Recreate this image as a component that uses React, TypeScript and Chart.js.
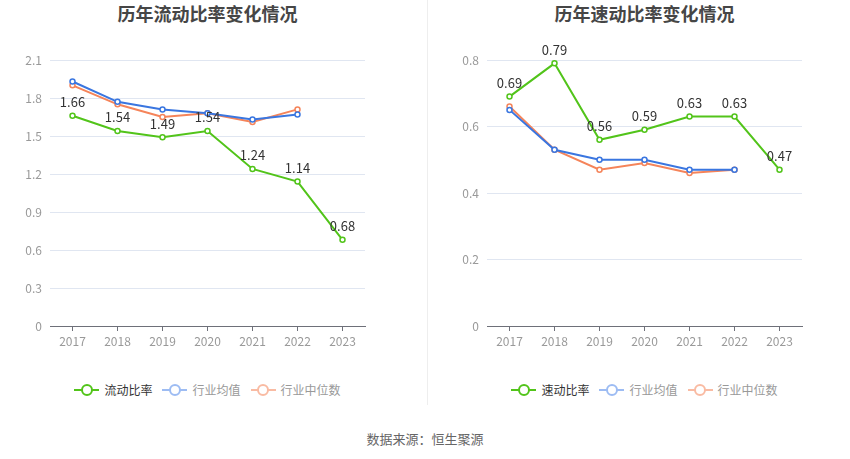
import React, { useEffect, useRef } from 'react';
import { Chart, registerables, Plugin } from 'chart.js';

Chart.register(...registerables);

const years = ['2017', '2018', '2019', '2020', '2021', '2022', '2023'];

const currentRatio = [1.66, 1.54, 1.49, 1.54, 1.24, 1.14, 0.68];
const currentIndustryAvg = [1.93, 1.77, 1.71, 1.68, 1.63, 1.67, null];
const currentIndustryMedian = [1.9, 1.75, 1.65, 1.68, 1.61, 1.71, null];

const quickRatio = [0.69, 0.79, 0.56, 0.59, 0.63, 0.63, 0.47];
const quickIndustryAvg = [0.65, 0.53, 0.5, 0.5, 0.47, 0.47, null];
const quickIndustryMedian = [0.66, 0.53, 0.47, 0.49, 0.46, 0.47, null];

const GREEN = '#52c41a';
const BLUE = '#3a76e0';
const ORANGE = '#f5845a';
const FONT = '"Noto Sans CJK SC", "Noto Sans", sans-serif';

// draws the value above each point of the first dataset
const valueLabels: Plugin<'line'> = {
  id: 'valueLabels',
  afterDatasetsDraw(chart) {
    const ctx = chart.ctx;
    const meta = chart.getDatasetMeta(0);
    const data = chart.data.datasets[0].data as number[];
    ctx.save();
    ctx.font = `13px ${FONT}`;
    ctx.fillStyle = '#333';
    ctx.textAlign = 'center';
    ctx.textBaseline = 'bottom';
    meta.data.forEach((pt, i) => {
      ctx.fillText(data[i].toFixed(2), pt.x, pt.y - 7);
    });
    ctx.restore();
  },
};

interface RatioChartProps {
  left: number;
  axisWidth: number;
  rightPad: number;
  title: string;
  names: string[];
  main: number[];
  avg: (number | null)[];
  median: (number | null)[];
  max: number;
  step: number;
}

const RatioChart: React.FC<RatioChartProps> = ({ left, axisWidth, rightPad, title, names, main, avg, median, max, step }) => {
  const canvasRef = useRef<HTMLCanvasElement>(null);

  useEffect(() => {
    if (!canvasRef.current) return;
    const line = (label: string, data: (number | null)[], color: string) => ({
      label,
      data,
      borderColor: color,
      backgroundColor: '#fff',
      borderWidth: 2,
      pointRadius: 2.5,
      pointBorderWidth: 1.5,
      pointBackgroundColor: '#fff',
      pointBorderColor: color,
      tension: 0,
    });
    const chart = new Chart(canvasRef.current, {
      type: 'line',
      data: {
        labels: years,
        datasets: [
          line(names[0], main, GREEN),
          line(names[1], avg, BLUE),
          line(names[2], median, ORANGE),
        ],
      },
      options: {
        animation: false,
        responsive: false,
        layout: { padding: { left: 0, right: rightPad, top: 20, bottom: 0 } },
        plugins: { legend: { display: false }, tooltip: { enabled: false } },
        scales: {
          x: {
            offset: true,
            afterFit: (s: any) => { s.height = 24; },
            border: { color: '#6e7079' },
            grid: { offset: false, drawOnChartArea: false, color: '#6e7079', tickLength: 5 },
            ticks: { color: '#999', font: { family: FONT, size: 12 }, padding: 3 },
          },
          y: {
            min: 0,
            max,
            afterFit: (s: any) => { s.width = axisWidth; },
            border: { display: false },
            grid: { color: '#e0e6f1', drawTicks: false },
            ticks: {
              stepSize: step,
              padding: 8,
              color: '#999',
              font: { family: FONT, size: 12 },
              callback: (v: any) => String(Number(Number(v).toFixed(1))),
            },
          },
        },
      },
      plugins: [valueLabels],
    });
    return () => chart.destroy();
  }, []);

  const legendIcon = (color: string) => (
    <span style={{ position: 'relative', display: 'inline-block', width: 25, height: 14, marginRight: 5 }}>
      <span style={{ position: 'absolute', left: 0, top: 6, width: 25, height: 2, background: color }} />
      <span style={{ position: 'absolute', left: 6.5, top: 1, width: 8, height: 8, borderRadius: '50%', border: `2px solid ${color}`, background: '#fff' }} />
    </span>
  );

  const plotCenter = left + axisWidth + (425 - axisWidth - rightPad) / 2;

  return (
    <>
      <div style={{ position: 'absolute', left: plotCenter - 150, top: 0, width: 300, textAlign: 'center', fontFamily: FONT, fontWeight: 'bold', fontSize: 18, color: '#464646' }}>
        {title}
      </div>
      <canvas ref={canvasRef} width={425} height={310} style={{ position: 'absolute', left, top: 40, width: 425, height: 310 }} />
      <div style={{ position: 'absolute', left: plotCenter - 200, top: 381, width: 400, display: 'flex', justifyContent: 'center', alignItems: 'center', fontFamily: FONT, fontSize: 12 }}>
        <span style={{ display: 'flex', alignItems: 'center', color: '#333', marginRight: 10 }}>{legendIcon(GREEN)}{names[0]}</span>
        <span style={{ display: 'flex', alignItems: 'center', color: '#999', marginRight: 10 }}>{legendIcon('#9dbcf3')}{names[1]}</span>
        <span style={{ display: 'flex', alignItems: 'center', color: '#999' }}>{legendIcon('#f9bba3')}{names[2]}</span>
      </div>
    </>
  );
};

export default function App() {
  return (
    <div style={{ position: 'fixed', left: 0, top: 0, width: 850, height: 459, background: '#fff', overflow: 'hidden' }}>
      <RatioChart
        left={0}
        axisWidth={50}
        rightPad={60}
        title="历年流动比率变化情况"
        names={['流动比率', '行业均值', '行业中位数']}
        main={currentRatio}
        avg={currentIndustryAvg}
        median={currentIndustryMedian}
        max={2.1}
        step={0.3}
      />
      <div style={{ position: 'absolute', left: 427, top: 0, width: 1, height: 405, background: '#eeeeee' }} />
      <RatioChart
        left={425}
        axisWidth={62}
        rightPad={48}
        title="历年速动比率变化情况"
        names={['速动比率', '行业均值', '行业中位数']}
        main={quickRatio}
        avg={quickIndustryAvg}
        median={quickIndustryMedian}
        max={0.8}
        step={0.2}
      />
      <div style={{ position: 'absolute', left: 0, top: 429, width: 850, textAlign: 'center', fontFamily: FONT, fontSize: 13, color: '#666' }}>
        数据来源：恒生聚源
      </div>
    </div>
  );
}
